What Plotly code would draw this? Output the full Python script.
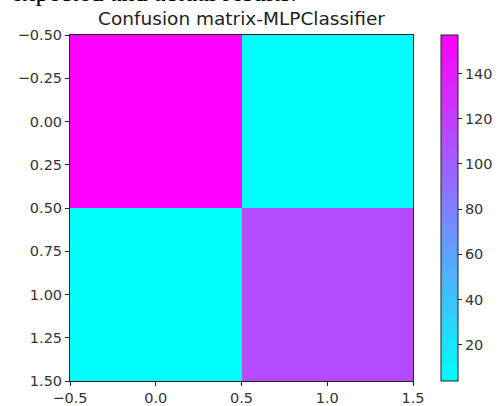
import plotly.graph_objects as go

# Data
classes = [0, 1]
matrix = [[157, 4],
          [4, 112]]
cbar_ticks = [20, 40, 60, 80, 100, 120, 140]
y_ticks = [-0.5, -0.25, 0.0, 0.25, 0.5, 0.75, 1.0, 1.25, 1.5]
x_ticks = [-0.5, 0.0, 0.5, 1.0, 1.5]

def fmt(v, d):
    s = f"{v:.{d}f}"
    return s.replace("-", "\u2212")

W, H = 498, 406
L, R, T, B = 70, 413, 35, 381

fig = go.Figure(go.Heatmap(
    z=matrix, x=classes, y=classes,
    colorscale=[[0, "#00ffff"], [1, "#ff00ff"]],
    xgap=0, ygap=0,
    colorbar=dict(
        thickness=17, len=1, lenmode="fraction", y=0.5, yanchor="middle",
        x=(441 - L) / (R - L), xanchor="left", xpad=0, ypad=0,
        outlinecolor="#222", outlinewidth=1,
        tickvals=cbar_ticks, ticks="outside", ticklen=4, tickcolor="#222",
        tickfont=dict(family="DejaVu Sans", size=14.5, color="#333"),
    ),
    showscale=True,
))

fig.update_layout(
    width=W, height=H,
    margin=dict(l=L, r=W - R, t=T, b=H - B, autoexpand=False),
    paper_bgcolor="white", plot_bgcolor="white",
    title=dict(text="Confusion matrix-MLPClassifier", x=(L + R) / 2 / W, xanchor="center",
               y=1 - 19 / H, yanchor="middle",
               font=dict(family="DejaVu Sans", size=18.5, color="#222")),
    annotations=[dict(text="expected and actual results.", xref="paper", yref="paper",
                      x=(299 - L) / (R - L), xanchor="right", y=1 + (T - 9.5) / (B - T), yanchor="bottom",
                      showarrow=False,
                      font=dict(family="Liberation Serif", size=26, color="#000"))],
)
fig.update_xaxes(range=[-0.5, 1.5], tickvals=x_ticks, ticktext=[fmt(v, 1) for v in x_ticks],
                 ticks="outside", ticklen=4, tickcolor="#222", showgrid=False, zeroline=False,
                 showline=True, linecolor="#222", linewidth=1, mirror=True,
                 tickfont=dict(family="DejaVu Sans", size=14.5, color="#333"))
fig.update_yaxes(range=[1.5, -0.5], tickvals=y_ticks, ticktext=[fmt(v, 2) for v in y_ticks],
                 ticks="outside", ticklen=4, tickcolor="#222", showgrid=False, zeroline=False,
                 showline=True, linecolor="#222", linewidth=1, mirror=True,
                 tickfont=dict(family="DejaVu Sans", size=14.5, color="#333"))

fig.write_html("out.html", config={"displayModeBar": False},
               post_script="document.body.style.margin='0px';document.body.style.overflow='hidden';")
